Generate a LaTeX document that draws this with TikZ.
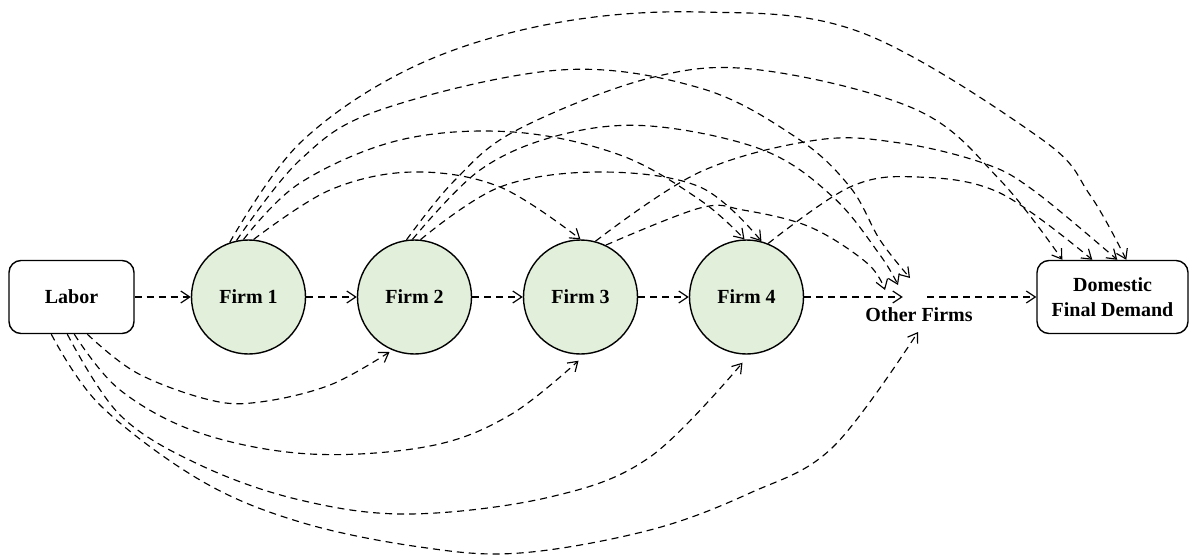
\documentclass[tikz,border=0pt]{standalone}
\usepackage{fontspec}
\setmainfont{Liberation Serif}
\usetikzlibrary{arrows.meta,calc}
\definecolor{firmgreen}{HTML}{E2EFDA}
\begin{document}
\begin{tikzpicture}[x=1pt,y=-1pt,
  font=\bfseries\fontsize{20}{25}\selectfont,
  boxnode/.style={draw=black,line width=1.4pt,rounded corners=12pt,fill=white,minimum height=73pt,align=center,inner sep=0pt},
  firm/.style={circle,draw=black,line width=1.4pt,fill=firmgreen,minimum size=114pt,inner sep=0pt},
  conn/.style={line width=1.15pt,dash pattern=on 7pt off 5pt,-{Straight Barb[length=9pt,width=12pt]}},
]
\useasboundingbox (0,0) rectangle (1191,557);

% nodes
\node[boxnode,minimum width=125pt] (labor) at (71.5,297) {Labor};
\node[firm] (f1) at (248.5,297) {Firm 1};
\node[firm] (f2) at (414.5,297) {Firm 2};
\node[firm] (f3) at (580.5,297) {Firm 3};
\node[firm] (f4) at (746.5,297) {Firm 4};
\node[minimum width=24pt,minimum height=0pt,inner sep=0pt] (of) at (915,297) {};
\node[inner sep=0pt] (oft) at (919,315) {Other Firms};
\node[boxnode,minimum width=151pt] (dfd) at (1112.5,297) {Domestic\\Final Demand};

% connector end points
\coordinate (d1) at ($(dfd.north west)+(26,0)$);
\coordinate (d2) at ($(dfd.north west)+(56,0)$);
\coordinate (d3) at ($(dfd.north west)+(81,0)$);
\coordinate (d4) at ($(dfd.north west)+(90,0)$);
\coordinate (o1) at ($(of)+(-30,-7)$);
\coordinate (o2) at ($(of)+(-17,-12)$);
\coordinate (o3) at ($(of)+(-5,-19)$);
\coordinate (o4) at ($(of)+(3,35)$);
\coordinate (l1) at ($(labor.south west)+(43,0)$);
\coordinate (l2) at ($(labor.south west)+(59,0)$);
\coordinate (l3) at ($(labor.south west)+(66,0)$);
\coordinate (l4) at ($(labor.south west)+(79,0)$);
\coordinate (b2) at ($(f2.center)+(-25,55)$);
\coordinate (b3) at ($(f3.south)+(-2,6)$);
\coordinate (b4) at ($(f4.south)+(-4,8)$);

% straight chain
\draw[conn] (labor.east) -- (f1.west);
\draw[conn] (f1.east) -- (f2.west);
\draw[conn] (f2.east) -- (f3.west);
\draw[conn] (f3.east) -- (f4.west);
\draw[conn] (f4.east) -- (of.west);
\draw[conn] (of.east) -- (dfd.west);

% upper arcs
\draw[conn] plot[smooth,tension=0.6] coordinates {(f1.109) (300,143) (413,67) (550,24) (700,12) (860,32) (1040,138) (1090,195) (d4)};
\draw[conn] plot[smooth,tension=0.6] coordinates {(f1.102) (300,160) (380,110) (560,70) (700,88) (797,138) (850,187) (880,240) (o3)};
\draw[conn] plot[smooth,tension=0.6] coordinates {(f1.95) (300,183) (400,140) (513,132) (620,155) (700,200) (f4.92)};
\draw[conn] plot[smooth,tension=0.6] coordinates {(f1.85) (330,190) (413,172) (500,187) (f3.north)};
\draw[conn] plot[smooth,tension=0.6] coordinates {(f2.98) (455,180) (517,130) (650,78) (760,70) (917,110) (1000,180) (d1)};
\draw[conn] plot[smooth,tension=0.6] coordinates {(f2.92) (480,170) (560,135) (650,126) (763,150) (833,197) (880,255) (o2)};
\draw[conn] plot[smooth,tension=0.6] coordinates {(f2.84) (500,187) (600,172) (700,187) (f4.75)};
\draw[conn] plot[smooth,tension=0.6] coordinates {(f3.75) (700,172) (817,140) (900,143) (983,163) (1033,190) (d3)};
\draw[conn] plot[smooth,tension=0.6] coordinates {(f3.64) (700,208) (743,210) (810,227) (867,263) (o1)};
\draw[conn] plot[smooth,tension=0.6] coordinates {(f4.68) (850,187) (917,177) (1000,193) (d2)};

% lower arcs from labor
\draw[conn] plot[smooth,tension=0.6] coordinates {(l4) (137,373) (210,400) (260,402) (330,385) (b2)};
\draw[conn] plot[smooth,tension=0.6] coordinates {(l3) (120,390) (200,433) (310,454) (430,446) (510,415) (b3)};
\draw[conn] plot[smooth,tension=0.6] coordinates {(l2) (120,415) (200,465) (300,500) (410,514) (550,497) (650,457) (b4)};
\draw[conn] plot[smooth,tension=0.6] coordinates {(l1) (100,405) (200,480) (300,522) (420,547) (520,553) (650,530) (750,493) (833,447) (o4)};
\end{tikzpicture}
\end{document}
